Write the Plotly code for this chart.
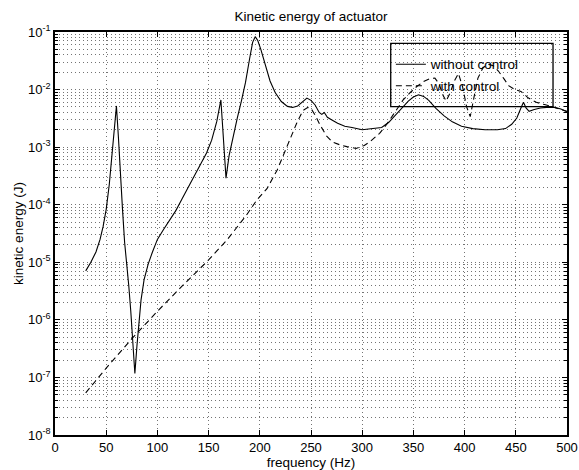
import plotly.graph_objects as go

# Frequency axis (Hz) and kinetic energy (J) of the actuator
freq_without = [30, 35, 40, 44, 47, 50, 53, 56.5, 60, 62, 64, 66, 68, 70, 72, 74, 76, 78,
                80, 82, 84, 87, 91, 95, 100, 106, 112, 118, 124, 130, 136, 142, 148,
                153, 158, 162, 164, 167, 170, 174, 178, 182, 186, 190, 193, 195.5, 198,
                201, 205, 210, 215, 221, 227, 232, 237, 242, 246, 250, 254, 258, 260.5,
                263, 266, 270, 276, 283, 290, 300, 310, 319, 326, 332, 339, 345, 350,
                355, 360, 365, 372, 380, 388, 397, 408, 420, 432, 440, 446, 451, 455,
                457.5, 460, 463, 468, 474, 480, 488, 494, 500]
ke_without = [7.1e-6, 1.0e-5, 1.51e-5, 2.5e-5, 4.2e-5, 8.3e-5, 2.24e-4, 1.0e-3, 5.2e-3,
              1.41e-3, 2.8e-4, 7.9e-5, 2.2e-5, 1.0e-5, 4.0e-6, 1.41e-6, 4.5e-7, 1.17e-7,
              3.5e-7, 1.0e-6, 2.2e-6, 5.0e-6, 9.3e-6, 1.48e-5, 2.5e-5, 3.7e-5, 5.4e-5,
              7.9e-5, 1.26e-4, 2.0e-4, 3.2e-4, 5.0e-4, 7.9e-4, 1.32e-3, 2.8e-3, 6.6e-3,
              1.58e-3, 2.9e-4, 7.1e-4, 1.58e-3, 3.2e-3, 6.3e-3, 1.32e-2, 3.4e-2, 6.6e-2,
              8.3e-2, 7.1e-2, 5.0e-2, 2.8e-2, 1.41e-2, 8.9e-3, 6.2e-3, 5.1e-3, 4.9e-3,
              5.2e-3, 6.3e-3, 7.1e-3, 6.5e-3, 5.4e-3, 4.0e-3, 3.7e-3, 4.0e-3, 3.3e-3,
              3.0e-3, 2.6e-3, 2.3e-3, 2.2e-3, 2.0e-3, 2.1e-3, 2.2e-3, 2.7e-3, 3.5e-3,
              4.8e-3, 6.3e-3, 7.4e-3, 8.1e-3, 7.6e-3, 6.5e-3, 4.7e-3, 3.5e-3, 2.75e-3,
              2.3e-3, 2.1e-3, 2.0e-3, 2.0e-3, 2.1e-3, 2.5e-3, 3.2e-3, 4.8e-3, 6.0e-3,
              4.8e-3, 4.2e-3, 4.5e-3, 4.8e-3, 4.9e-3, 4.9e-3, 4.6e-3, 4.1e-3]

freq_with = [30, 50, 75, 100, 125, 150, 168, 187, 197, 207, 217, 226, 236, 242, 247, 250,
             254, 259, 265, 271, 278, 285, 294, 302, 308, 317, 324, 330, 340, 347, 353,
             360, 366, 371, 375, 379, 382, 386, 390, 394, 398, 402, 405.5, 409, 413, 418,
             423, 428, 433, 438, 443, 449, 455, 462, 470, 478, 488, 500]
ke_with = [5.4e-8, 1.45e-7, 4.7e-7, 1.41e-6, 4.0e-6, 1.1e-5, 2.45e-5, 6.6e-5, 1.2e-4,
           1.9e-4, 4.0e-4, 1.0e-3, 2.6e-3, 4.3e-3, 4.9e-3, 4.7e-3, 3.6e-3, 2.4e-3,
           1.58e-3, 1.23e-3, 1.1e-3, 1.02e-3, 9.5e-4, 1.07e-3, 1.26e-3, 1.74e-3, 2.5e-3,
           3.6e-3, 6.6e-3, 8.9e-3, 1.12e-2, 1.38e-2, 1.55e-2, 1.58e-2, 1.26e-2, 7.9e-3,
           6.3e-3, 8.9e-3, 1.41e-2, 1.9e-2, 1.12e-2, 5.0e-3, 3.4e-3, 7.1e-3, 1.58e-2,
           2.4e-2, 2.75e-2, 2.6e-2, 2.1e-2, 1.58e-2, 1.17e-2, 1.0e-2, 9.3e-3, 7.2e-3,
           6.0e-3, 5.5e-3, 4.9e-3, 4.2e-3]

series_names = ["without control", "with control"]
x_ticks = list(range(0, 501, 50))
y_tick_vals = [1e-8, 1e-7, 1e-6, 1e-5, 1e-4, 1e-3, 1e-2, 1e-1]
y_tick_text = ["10<sup>-8</sup>", "10<sup>-7</sup>", "10<sup>-6</sup>", "10<sup>-5</sup>",
               "10<sup>-4</sup>", "10<sup>-3</sup>", "10<sup>-2</sup>", "10<sup>-1</sup>"]
# minor log ticks/grid at 2..9 within each decade
y_minor_vals = [m * d for d in y_tick_vals[:-1] for m in range(2, 10)]

FONT = "Liberation Sans, Arial, Helvetica, sans-serif"
GRID = "rgba(0,0,0,0.55)"
GRID_DASH = "1px,3px"

fig = go.Figure()
fig.add_trace(go.Scatter(x=freq_without, y=ke_without, mode="lines", name=series_names[0],
                         legendgroup="a", line=dict(color="black", width=1.1)))
fig.add_trace(go.Scatter(x=freq_with, y=ke_with, mode="lines", name=series_names[1],
                         legendgroup="b",
                         line=dict(color="black", width=1.1, dash="6px,4px")))

axis_common = dict(
    showline=True, linecolor="black", linewidth=1.5, mirror="ticks",
    ticks="inside", ticklen=5, tickcolor="black", tickwidth=1,
    showgrid=True, gridcolor=GRID, gridwidth=1, griddash=GRID_DASH,
    zeroline=False, automargin=False,
    tickfont=dict(family=FONT, size=13, color="black"),
)

fig.update_xaxes(range=[0, 500], tickvals=x_ticks,
                 title=dict(text="frequency (Hz)", font=dict(family=FONT, size=13.5, color="black"),
                            standoff=12),
                 **axis_common)
fig.update_yaxes(type="log", range=[-8, -1], tickvals=y_tick_vals, ticktext=y_tick_text,
                 minor=dict(tickmode="array", tickvals=y_minor_vals,
                            ticks="inside", ticklen=3, tickcolor="black",
                            showgrid=True, gridcolor=GRID, griddash=GRID_DASH, gridwidth=1),
                 title=dict(text="kinetic energy (J)", font=dict(family=FONT, size=13.5, color="black"),
                            standoff=1),
                 **axis_common)

# Legend frame
fig.add_shape(type="rect", xref="x domain", yref="y domain",
              x0=0.6557, x1=0.9727, y0=0.8146, y1=0.972,
              line=dict(color="black", width=1.3), fillcolor="rgba(0,0,0,0)", layer="above")

fig.update_layout(
    width=579, height=470,
    margin=dict(l=55, r=12, t=32, b=35),
    paper_bgcolor="white", plot_bgcolor="white",
    font=dict(family=FONT, size=13, color="black"),
    title=dict(text="Kinetic energy of actuator", x=0.537, xanchor="center",
               y=0.966, yanchor="middle", font=dict(family=FONT, size=13.5, color="black")),
    showlegend=True,
    legend=dict(x=0.656, y=0.958, xanchor="left", yanchor="top",
                bgcolor="rgba(0,0,0,0)", borderwidth=0, tracegroupgap=1,
                font=dict(family=FONT, size=13.5, color="black")),
)

fig.write_html("out.html")
